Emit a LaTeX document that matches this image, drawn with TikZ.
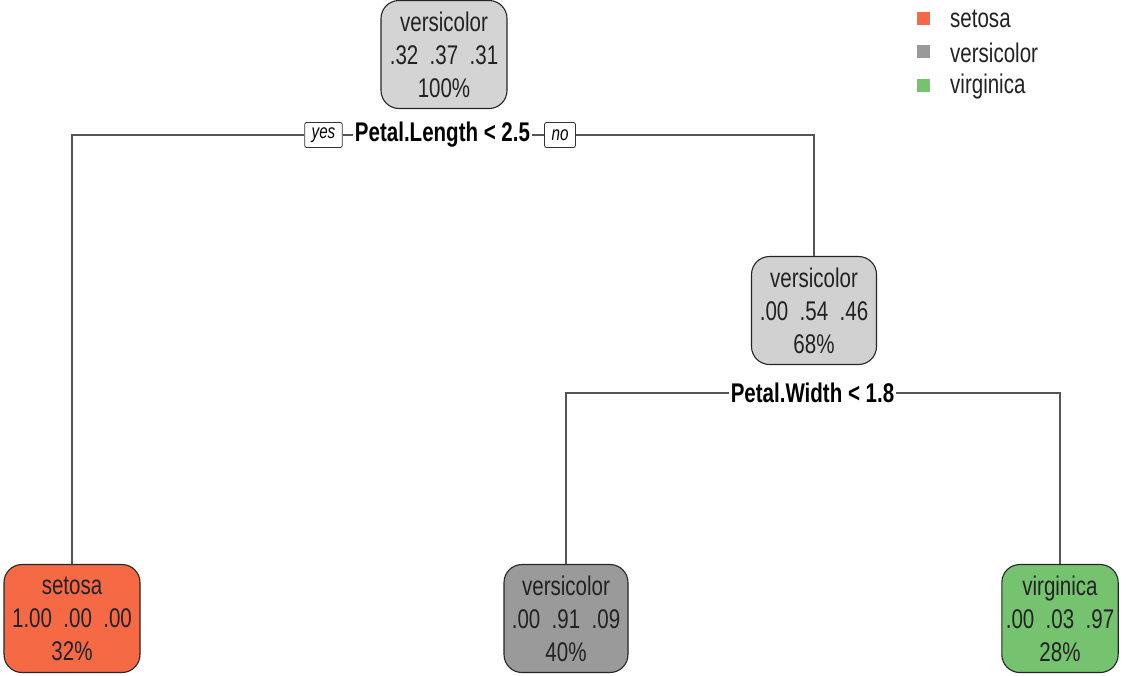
\documentclass[tikz,border=0pt]{standalone}
\usepackage{fontspec}
\setmainfont{Liberation Sans}[FakeStretch=0.76]
\definecolor{rootfill}{HTML}{D4D4D4}
\definecolor{midfill}{HTML}{D1D1D1}
\definecolor{setfill}{HTML}{F66945}
\definecolor{verfill}{HTML}{9A9A9A}
\definecolor{virfill}{HTML}{75C26F}
\definecolor{linegray}{HTML}{555555}
\definecolor{txt}{HTML}{222222}
\tikzset{
  treebox/.style={draw=black!85, line width=1.1pt, rounded corners=18pt, align=center,
    font=\fontsize{27}{33}\selectfont, text=txt, inner xsep=4pt, inner ysep=3pt, minimum height=108pt},
  splitlab/.style={font=\bfseries\fontsize{27}{30}\selectfont, inner xsep=2pt, inner ysep=0pt, text=black},
  yn/.style={draw=black!80, line width=0.8pt, rounded corners=2pt, font=\itshape\fontsize{20}{21}\selectfont,
    inner xsep=7pt, inner ysep=2pt, minimum height=25pt, fill=white},
  conn/.style={draw=linegray, line width=1.6pt},
  legsq/.style={minimum size=13pt, inner sep=0pt},
  legtx/.style={anchor=west, font=\fontsize{27}{30}\selectfont, text=txt, inner sep=0pt}
}
\begin{document}
\begin{tikzpicture}[x=1pt,y=-1pt]
\useasboundingbox[fill=white] (0,0) rectangle (1126,675);
% nodes
\node[treebox, fill=rootfill, minimum width=126pt] (root) at (444,54.5) {versicolor\\.32\ \ .37\ \ .31\\100\%};
\node[treebox, fill=midfill, minimum width=125pt] (n2) at (814,310.5) {versicolor\\.00\ \ .54\ \ .46\\68\%};
\node[treebox, fill=setfill, minimum width=136pt] (l1) at (72,618.5) {setosa\\1.00\ \ .00\ \ .00\\32\%};
\node[treebox, fill=verfill, minimum width=124pt] (l2) at (566,618.5) {versicolor\\.00\ \ .91\ \ .09\\40\%};
\node[treebox, fill=virfill, minimum width=116pt] (l3) at (1060,618.5) {virginica\\.00\ \ .03\ \ .97\\28\%};
% split labels
\node[splitlab] (s1) at (442.5,135) {Petal.Length < 2.5};
\node[yn] (yes) at (323.5,135) {yes};
\node[yn] (no) at (560,135) {no};
\node[splitlab] (s2) at (812.5,393) {Petal.Width < 1.8};
% connectors
\draw[conn] (yes.west) -| (l1.north);
\draw[conn] (yes.east) -- (s1.west);
\draw[conn] (s1.east) -- (no.west);
\draw[conn] (no.east) -| (n2.north);
\draw[conn] (s2.west) -| (l2.north);
\draw[conn] (s2.east) -| (l3.north);
% legend
\node[legsq, fill=setfill] (k1) at (923.5,18) {};
\node[legsq, fill=verfill] (k2) at (923.5,51) {};
\node[legsq, fill=virfill] (k3) at (923.5,85) {};
\node[legtx] (t1) at (950,18.5) {setosa};
\node[legtx] (t2) at (950,52.5) {versicolor};
\node[legtx] (t3) at (950,86.5) {virginica};
\end{tikzpicture}
\end{document}
